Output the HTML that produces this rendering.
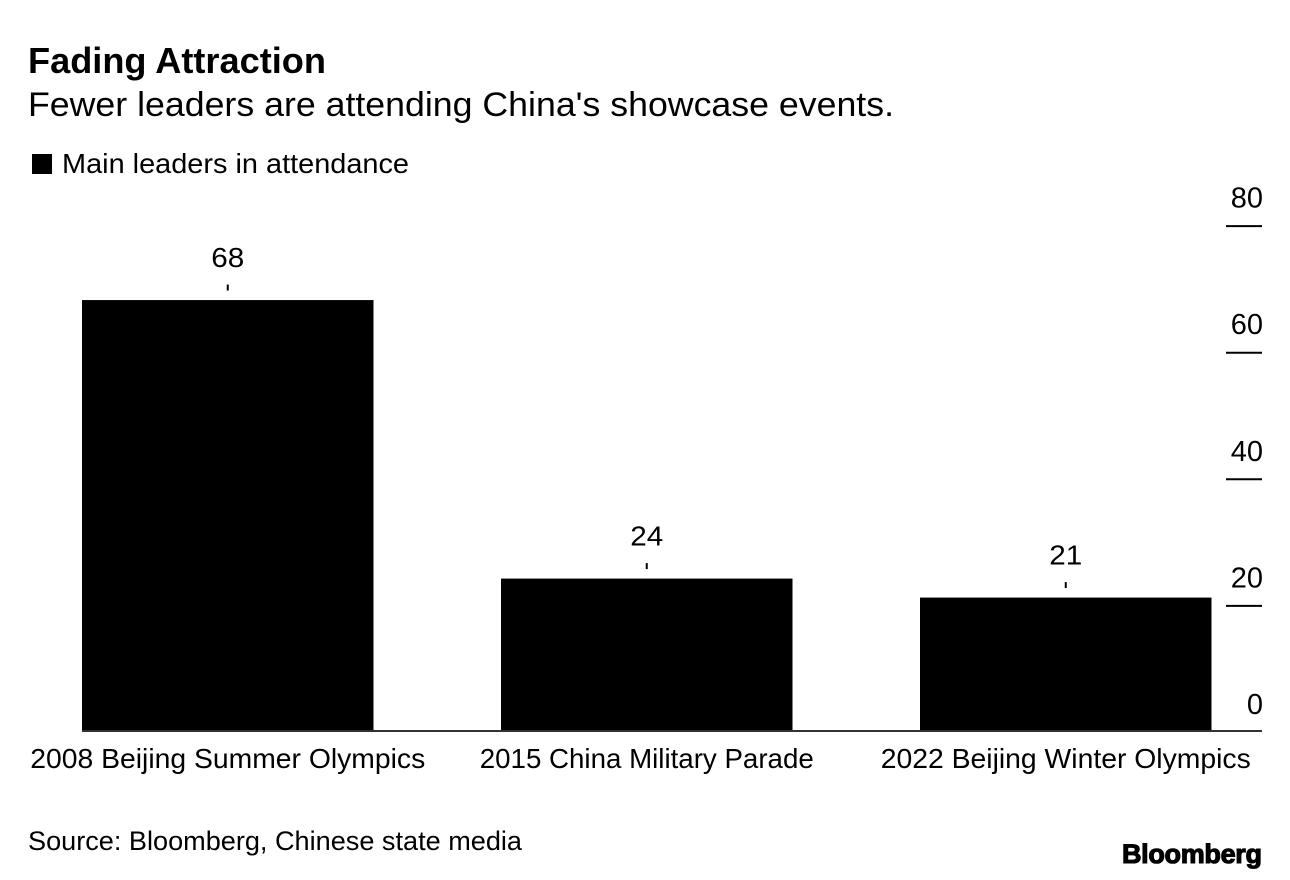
<!DOCTYPE html>
<html lang="en">
<head>
<meta charset="utf-8">
<title>Fading Attraction</title>
<style>
html,body{margin:0;padding:0;background:#fff;width:1290px;height:880px;overflow:hidden}
svg{display:block;font-family:"Liberation Sans",Arial,sans-serif;fill:#000}
</style>
</head>
<body>
<svg id="chart" width="1290" height="880" viewBox="0 0 1290 880" xmlns="http://www.w3.org/2000/svg">
  <rect width="1290" height="880" fill="#fff"/>
  <text x="28" y="73" font-size="36" font-weight="700" textLength="298" lengthAdjust="spacingAndGlyphs">Fading Attraction</text>
  <text x="28" y="116" font-size="34" textLength="866" lengthAdjust="spacingAndGlyphs">Fewer leaders are attending China's showcase events.</text>
  <rect x="32" y="154" width="20" height="20" fill="#000"/>
  <text x="62" y="173" font-size="28" textLength="347" lengthAdjust="spacingAndGlyphs">Main leaders in attendance</text>
  <g id="y-axis"></g>
  <g id="bars"></g>
  <line x1="82" x2="1262" y1="731" y2="731" stroke="#333" stroke-width="2"/>
  <g id="x-axis"></g>
  <text x="28" y="850" font-size="27" textLength="494" lengthAdjust="spacingAndGlyphs">Source: Bloomberg, Chinese state media</text>
  <text x="1122" y="863" font-size="27" font-weight="700" stroke="#000" stroke-width="1.1" textLength="140" lengthAdjust="spacing">Bloomberg</text>
</svg>
<script>
const categories = ['2008 Beijing Summer Olympics', '2015 China Military Parade', '2022 Beijing Winter Olympics'];
const attendance = [68, 24, 21];
const printedValues = ['68', '24', '21'];
const tickValues = [0, 20, 40, 60, 80];
const tickLabels = ['0', '20', '40', '60', '80'];

const NS = 'http://www.w3.org/2000/svg';
const plotLeft = 82, bandStep = 419, barWidth = 291.5;
const tickZeroY = 732.5, barZeroY = 730.5, unit = 6.33;
const barY = function (v) { return barZeroY - v * unit; };
const tickY = function (v) { return tickZeroY - v * unit; };
const bandCenter = function (i) { return plotLeft + barWidth / 2 + i * bandStep; };
const categoryWidths = [395, 334, 370];

const make = function (tag, attrs, text) {
  const el = document.createElementNS(NS, tag);
  Object.keys(attrs).forEach(function (k) { el.setAttribute(k, attrs[k]); });
  if (text !== undefined) el.textContent = text;
  return el;
};

const barsGroup = document.getElementById('bars');
const xGroup = document.getElementById('x-axis');
const yGroup = document.getElementById('y-axis');

attendance.forEach(function (v, i) {
  const cx = bandCenter(i);
  const top = barY(v);
  const bar = make('rect', { x: cx - barWidth / 2, y: top, width: barWidth, height: 731 - top, fill: '#000' });
  
  
  barsGroup.appendChild(bar);

  const leader = make('line', { x1: cx, x2: cx, y1: top - 15.5, y2: top - 9.5, stroke: '#000', 'stroke-width': 2 });
  
  
  barsGroup.appendChild(leader);

  const valueLabel = make('text', { x: cx, y: top - 33, 'font-size': 28, 'text-anchor': 'middle', textLength: 33, lengthAdjust: 'spacingAndGlyphs' }, printedValues[i]);
  
  
  barsGroup.appendChild(valueLabel);

  const catLabel = make('text', { x: cx, y: 768, 'font-size': 27.5, 'text-anchor': 'middle', textLength: categoryWidths[i], lengthAdjust: 'spacingAndGlyphs' }, categories[i]);
  
  
  xGroup.appendChild(catLabel);
});

tickValues.forEach(function (v, i) {
  const y = tickY(v);
  if (v !== 0) {
    const tick = make('line', { x1: 1226, x2: 1262, y1: y, y2: y, stroke: '#000', 'stroke-width': 2 });
    
    
    yGroup.appendChild(tick);
  }
  const label = make('text', { x: 1263, y: y - 18.5, 'font-size': 29, 'text-anchor': 'end' }, tickLabels[i]);
  
  
  yGroup.appendChild(label);
});
</script>
</body>
</html>
